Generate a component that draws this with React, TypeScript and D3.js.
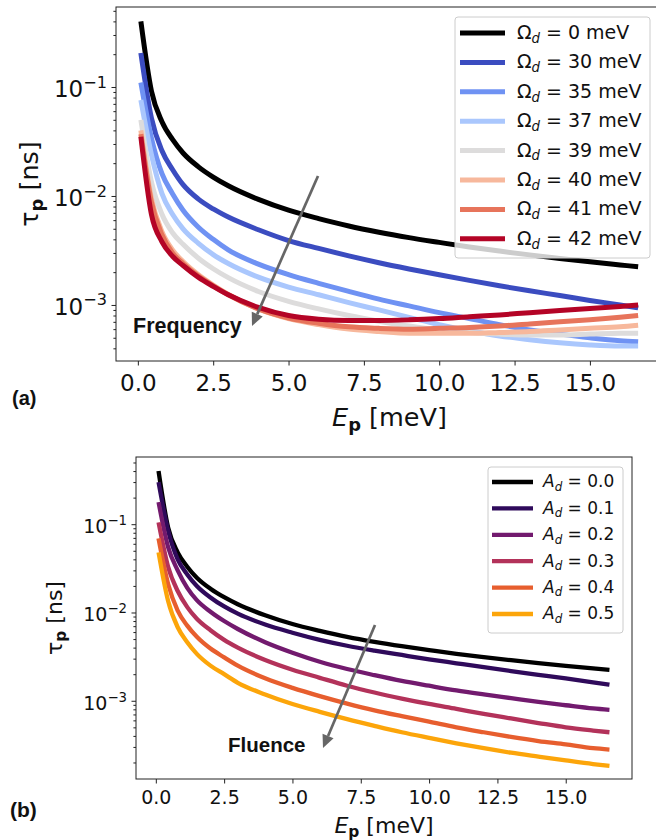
import React, { useEffect, useRef } from 'react'
import * as d3 from 'd3'

// photon energy grid [meV]
const energy = [0.1, 0.45, 0.8, 1.15, 1.5, 2, 2.5, 3, 4, 5, 6, 7, 8, 9, 10, 11, 12, 13, 14, 15, 16, 16.6]

// panel (a): drive frequency
const omegaLabels = ['0', '30', '35', '37', '39', '40', '41', '42']
const omegaColors = ['#000000', '#3b4cc0', '#6f92f3', '#aac7fd', '#dddcdc', '#f7b89c', '#e7745b', '#b40426']
const tauOmega0 = [0.40, 0.092, 0.048, 0.033, 0.0248, 0.0186, 0.0149, 0.0124, 0.0093, 0.0074, 0.0062, 0.0053, 0.00465, 0.00415, 0.00375, 0.0034, 0.00312, 0.00288, 0.00267, 0.00249, 0.00233, 0.00224]
const tauOmega30 = [0.205, 0.052, 0.026, 0.0175, 0.0127, 0.0094, 0.0076, 0.0064, 0.0049, 0.0039, 0.0033, 0.00282, 0.00244, 0.00214, 0.00189, 0.00168, 0.0015, 0.00135, 0.00122, 0.0011, 0.001, 0.00094]
const tauOmega35 = [0.11, 0.034, 0.016, 0.0105, 0.0074, 0.0052, 0.004, 0.0032, 0.00237, 0.0019, 0.00158, 0.00133, 0.00113, 0.00098, 0.00085, 0.00075, 0.00066, 0.00059, 0.00054, 0.0005, 0.00047, 0.00046]
const tauOmega37 = [0.076, 0.024, 0.0105, 0.0068, 0.005, 0.0037, 0.0029, 0.0024, 0.0018, 0.00146, 0.00124, 0.00105, 0.0009, 0.00077, 0.00066, 0.00058, 0.00052, 0.00048, 0.00045, 0.00043, 0.00042, 0.00042]
const tauOmega39 = [0.05, 0.0135, 0.0068, 0.0046, 0.0036, 0.0027, 0.00215, 0.00178, 0.00133, 0.00108, 0.00092, 0.0008, 0.00071, 0.00064, 0.00059, 0.00056, 0.00054, 0.00053, 0.00053, 0.00054, 0.00055, 0.00055]
const tauOmega40 = [0.04, 0.0095, 0.0047, 0.0032, 0.0025, 0.0019, 0.00152, 0.00125, 0.00092, 0.00075, 0.00066, 0.0006, 0.00057, 0.00055, 0.00055, 0.00055, 0.00056, 0.00057, 0.00059, 0.00061, 0.00063, 0.00065]
const tauOmega41 = [0.037, 0.0088, 0.0044, 0.003, 0.0024, 0.00185, 0.0015, 0.00124, 0.00092, 0.00076, 0.00068, 0.00063, 0.00061, 0.0006, 0.00061, 0.00062, 0.00064, 0.00067, 0.0007, 0.00073, 0.00077, 0.0008]
const tauOmega42 = [0.035, 0.0068, 0.0038, 0.0028, 0.0023, 0.0018, 0.00148, 0.00124, 0.00095, 0.0008, 0.00074, 0.00072, 0.00072, 0.00073, 0.00075, 0.00078, 0.00081, 0.00085, 0.00089, 0.00093, 0.00097, 0.001]

// panel (b): drive fluence
const fluenceLabels = ['0.0', '0.1', '0.2', '0.3', '0.4', '0.5']
const fluenceShades = [0, 0.16, 0.32, 0.48, 0.64, 0.8]
const tauA00 = tauOmega0
const tauA01 = [0.30, 0.085, 0.040, 0.027, 0.020, 0.0148, 0.0117, 0.0097, 0.0073, 0.0059, 0.0049, 0.0042, 0.0037, 0.0033, 0.00295, 0.00266, 0.0024, 0.00217, 0.00197, 0.00179, 0.00162, 0.00152]
const tauA02 = [0.178, 0.055, 0.030, 0.019, 0.0138, 0.0102, 0.008, 0.0065, 0.0046, 0.0035, 0.00277, 0.00229, 0.00195, 0.00168, 0.00148, 0.00131, 0.00118, 0.00107, 0.00097, 0.00089, 0.00082, 0.00079]
const tauA03 = [0.105, 0.033, 0.0175, 0.0115, 0.0085, 0.0063, 0.0049, 0.004, 0.0029, 0.00225, 0.00182, 0.00148, 0.00124, 0.00106, 0.00092, 0.00081, 0.00071, 0.00063, 0.00056, 0.0005, 0.00046, 0.00044]
const tauA04 = [0.069, 0.021, 0.0105, 0.0071, 0.0053, 0.0039, 0.0031, 0.0025, 0.0018, 0.0014, 0.00113, 0.00093, 0.00078, 0.00067, 0.00058, 0.0005, 0.00044, 0.00039, 0.00035, 0.00032, 0.00029, 0.00028]
const tauA05 = [0.048, 0.0135, 0.0068, 0.0046, 0.0034, 0.0025, 0.002, 0.0016, 0.00118, 0.00092, 0.00075, 0.00062, 0.00052, 0.00044, 0.00038, 0.00033, 0.00029, 0.000258, 0.000233, 0.000211, 0.000192, 0.000183]

const xTickValues = [0, 2.5, 5, 7.5, 10, 12.5, 15]
const xLimits = [-0.725, 17.425]

const FONT = 'DejaVu Sans'
const BOLD = 'Liberation Sans'

function drawPanel(svg, cfg) {
  const g = svg.append('g')
  const x = d3.scaleLinear().domain(xLimits).range([cfg.left, cfg.right])
  const y = d3.scaleLog().domain(cfg.yLimits).range([cfg.bottom, cfg.top])

  g.append('clipPath').attr('id', 'clip' + cfg.id)
    .append('rect')
    .attr('x', cfg.left).attr('y', cfg.top)
    .attr('width', cfg.right - cfg.left).attr('height', cfg.bottom - cfg.top)

  const line = d3.line()
    .x((d, i) => x(energy[i]))
    .y(d => y(d))
    .curve(d3.curveMonotoneX)

  const plot = g.append('g').attr('clip-path', `url(#clip${cfg.id})`)
  cfg.series.forEach((s, i) => {
    plot.append('path')
      .attr('d', line(s))
      .attr('fill', 'none')
      .attr('stroke', cfg.colors[i])
      .attr('stroke-width', cfg.lw)
      .attr('stroke-linejoin', 'round')
  })

  // spines
  g.append('rect')
    .attr('x', cfg.left).attr('y', cfg.top)
    .attr('width', cfg.right - cfg.left).attr('height', cfg.bottom - cfg.top)
    .attr('fill', 'none').attr('stroke', '#222').attr('stroke-width', 1)

  // x axis
  const gx = g.append('g')
    .attr('transform', `translate(0,${cfg.bottom})`)
    .call(d3.axisBottom(x).tickValues(xTickValues).tickFormat(d3.format('.1f')).tickSize(4.5).tickSizeOuter(0))
  gx.select('.domain').remove()
  gx.attr('font-family', FONT).attr('font-size', cfg.tickFont)
  gx.selectAll('line').attr('stroke', '#222')
  gx.selectAll('text').attr('y', cfg.xTickDy).attr('dy', null).attr('fill', '#111')

  // y axis, log
  const yTicks = []
  for (let k = -4; k <= 0; k++) {
    for (let m = 1; m <= 9; m++) {
      const v = m * Math.pow(10, k)
      if (v >= cfg.yLimits[0] && v <= cfg.yLimits[1]) yTicks.push(v)
    }
  }
  const gy = g.append('g')
    .attr('transform', `translate(${cfg.left},0)`)
    .call(d3.axisLeft(y).tickValues(yTicks).tickFormat(() => '').tickSize(4.5).tickSizeOuter(0))
  gy.select('.domain').remove()
  gy.attr('font-family', FONT).attr('font-size', cfg.tickFont)
  gy.selectAll('.tick').each(function (d) {
    const e = Math.log10(d)
    const major = Math.abs(e - Math.round(e)) < 1e-6
    const t = d3.select(this)
    t.select('line').attr('stroke', '#222').attr('x2', major ? -4.5 : -2.6)
    const txt = t.select('text')
    if (major) {
      txt.attr('x', -9).attr('dy', null).attr('y', cfg.yTickDy).attr('fill', '#111')
      txt.append('tspan').text('10')
      txt.append('tspan').text('\u2212' + Math.abs(Math.round(e)))
        .attr('font-size', '0.7em').attr('dy', '-0.62em')
    } else {
      txt.remove()
    }
  })

  // axis labels
  const xl = g.append('text')
    .attr('x', (cfg.left + cfg.right) / 2)
    .attr('y', cfg.xLabelY)
    .attr('text-anchor', 'middle')
    .attr('font-family', FONT).attr('font-size', cfg.labelFont).attr('fill', '#111')
  xl.append('tspan').text('E').attr('font-style', 'italic')
  xl.append('tspan').text('p').attr('font-size', '0.7em').attr('font-weight', 'bold').attr('dy', '0.28em')
  xl.append('tspan').text(' [meV]').attr('dy', '-0.2em')

  const yl = g.append('text')
    .attr('transform', `translate(${cfg.yLabelX},${(cfg.top + cfg.bottom) / 2}) rotate(-90)`)
    .attr('text-anchor', 'middle')
    .attr('font-family', FONT).attr('font-size', cfg.labelFont).attr('fill', '#111')
  yl.append('tspan').text('\u03c4')
  yl.append('tspan').text('p').attr('font-size', '0.7em').attr('font-weight', 'bold').attr('dy', '0.28em')
  yl.append('tspan').text(' [ns]').attr('dy', '-0.2em')

  // legend
  const L = cfg.legend
  g.append('rect')
    .attr('x', L.x).attr('y', L.y).attr('width', L.w).attr('height', L.h)
    .attr('rx', 3)
    .attr('fill', 'white').attr('fill-opacity', 0.8)
    .attr('stroke', '#cccccc').attr('stroke-width', 1)
  cfg.labels.forEach((lab, i) => {
    const ry = L.row0 + i * L.step
    g.append('line')
      .attr('x1', L.hx1).attr('x2', L.hx2).attr('y1', ry).attr('y2', ry)
      .attr('stroke', cfg.colors[i]).attr('stroke-width', cfg.lw)
    const t = g.append('text')
      .attr('x', L.tx).attr('y', ry + L.font * 0.32)
      .attr('font-family', FONT).attr('font-size', L.font).attr('fill', '#111')
    if (cfg.id === 'a') {
      t.append('tspan').text('\u03a9')
      t.append('tspan').text('d').attr('font-style', 'italic').attr('font-size', '0.7em').attr('dy', '0.28em')
      t.append('tspan').text(' = ' + lab + ' meV').attr('dy', '-0.2em')
    } else {
      t.append('tspan').text('A').attr('font-style', 'italic')
      t.append('tspan').text('d').attr('font-style', 'italic').attr('font-size', '0.7em').attr('dy', '0.28em')
      t.append('tspan').text(' = ' + lab).attr('dy', '-0.2em')
    }
  })

  // trend arrow and note
  const A = cfg.arrow
  const ang = Math.atan2(A.y2 - A.y1, A.x2 - A.x1)
  const headLen = 13, headW = 6
  const bx = A.x2 - headLen * Math.cos(ang), by = A.y2 - headLen * Math.sin(ang)
  g.append('line')
    .attr('x1', A.x1).attr('y1', A.y1).attr('x2', bx).attr('y2', by)
    .attr('stroke', '#666666').attr('stroke-width', 2.7)
  const nx = -Math.sin(ang), ny = Math.cos(ang)
  g.append('path')
    .attr('d', `M${A.x2},${A.y2}L${bx + nx * headW},${by + ny * headW}L${bx - nx * headW},${by - ny * headW}Z`)
    .attr('fill', '#666666')
  g.append('text')
    .attr('x', A.tx).attr('y', A.ty)
    .attr('font-family', BOLD).attr('font-weight', 'bold').attr('font-size', A.font)
    .attr('fill', '#111')
    .text(A.text)

  g.append('text')
    .attr('x', cfg.tag.x).attr('y', cfg.tag.y)
    .attr('font-family', BOLD).attr('font-weight', 'bold').attr('font-size', cfg.tag.font)
    .attr('fill', '#111')
    .text(cfg.tag.text)
}

export default function App() {
  const ref = useRef(null)

  useEffect(() => {
    const svg = d3.select(ref.current)
    svg.selectAll('*').remove()

    drawPanel(svg, {
      id: 'a',
      left: 116, right: 663, top: 7, bottom: 361,
      yLimits: [3.06e-4, 0.542],
      series: [tauOmega0, tauOmega30, tauOmega35, tauOmega37, tauOmega39, tauOmega40, tauOmega41, tauOmega42],
      colors: omegaColors,
      labels: omegaLabels,
      lw: 5,
      tickFont: 23, xTickDy: 30, yTickDy: 10,
      labelFont: 25.5, xLabelY: 426, yLabelX: 38,
      legend: { x: 455, y: 17, w: 195, h: 241, row0: 33, step: 29.4, hx1: 460, hx2: 505, tx: 517, font: 19 },
      arrow: { x1: 318, y1: 176, x2: 252, y2: 326, text: 'Frequency', tx: 133, ty: 333, font: 21.5 },
      tag: { text: '(a)', x: 12, y: 405, font: 20 },
    })

    drawPanel(svg, {
      id: 'b',
      left: 136, right: 632, top: 457, bottom: 779,
      yLimits: [1.3e-4, 0.577],
      series: [tauA00, tauA01, tauA02, tauA03, tauA04, tauA05],
      colors: fluenceShades.map(t => t === 0 ? '#000000' : d3.interpolateInferno(t)),
      labels: fluenceLabels,
      lw: 4.3,
      tickFont: 19, xTickDy: 25, yTickDy: 8.5,
      labelFont: 22, xLabelY: 833, yLabelX: 62,
      legend: { x: 488, y: 467, w: 135, h: 166, row0: 482, step: 26.4, hx1: 492, hx2: 533, tx: 543, font: 17 },
      arrow: { x1: 375, y1: 625, x2: 323, y2: 748, text: 'Fluence', tx: 228, ty: 752, font: 20.5 },
      tag: { text: '(b)', x: 10, y: 817, font: 21 },
    })
  }, [])

  return (
    <svg ref={ref} width={656} height={840}
      style={{ position: 'absolute', left: 0, top: 0, background: 'white' }} />
  )
}
